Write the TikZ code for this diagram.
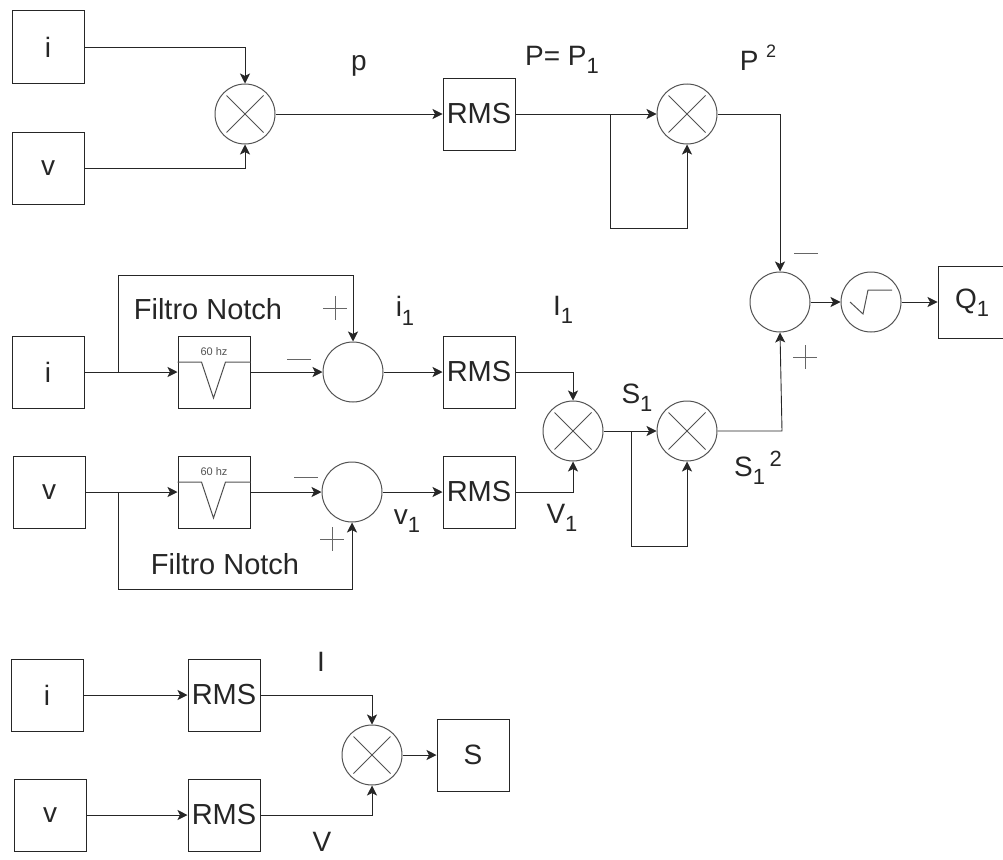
\documentclass[tikz,border=0pt]{standalone}
\usepackage{fontspec}
\setmainfont{Liberation Sans}
\usetikzlibrary{arrows.meta,calc}
\definecolor{ink}{gray}{0.15}
\definecolor{sgn}{gray}{0.4}
\tikzset{
  blockbox/.style={draw=ink,line width=1pt,minimum width=72pt,minimum height=72pt,inner sep=0pt,font=\fontsize{28}{28}\selectfont,text=ink},
  rmsbox/.style={blockbox,font=\fontsize{29}{29}\selectfont},
  filterbox/.style={blockbox},
  roundnode/.style={circle,draw=ink!80,line width=1pt,minimum size=60pt,inner sep=0pt},
  wire/.style={draw=ink,line width=.9pt,-{Stealth[length=10pt,width=10pt,inset=2.5pt]}},
  lab/.style={inner sep=0pt,font=\fontsize{28}{28}\selectfont,text=ink},
  signmark/.style={draw=sgn,line width=1pt}
}
\newcommand{\sbs}[1]{\raisebox{-.3em}{\fontsize{22}{22}\selectfont #1}}
\newcommand{\lowv}{\raisebox{-3pt}{v}}
\newcommand{\mulcross}[1]{\draw[draw=ink!80,line width=.8pt] ($(#1)+(-18.5,-18.5)$) -- ($(#1)+(18.5,18.5)$) ($(#1)+(18.5,-18.5)$) -- ($(#1)+(-18.5,18.5)$);}
\newcommand{\notch}[1]{%
  \draw[draw=ink!80,line width=1pt] ([yshift=10pt]#1.west) -- ++(24,0) -- ++(12,36) -- ++(12,-36) -- ([yshift=10pt]#1.east);
  \node[inner sep=0pt,font=\fontsize{11}{11}\selectfont,text=ink!80] (#1t) at ([yshift=20pt]#1.center) {60 hz};}
\newcommand{\plusmark}[2]{\draw[signmark] (#1-12,#2) -- (#1+12,#2) (#1,#2-12) -- (#1,#2+12);}
\newcommand{\minusmark}[2]{\draw[signmark] (#1-12,#2) -- (#1+12,#2);}
\begin{document}
\begin{tikzpicture}[x=1pt,y=-1pt]
\useasboundingbox (0,0) rectangle (1003,859);
\clip (0,0) rectangle (1003,859);
% top row
\node[blockbox] (i1) at (48,47) {i};
\node[blockbox] (v1) at (48,168) {\lowv};
\node[roundnode] (m1) at (245,114) {};
\node[rmsbox] (r1) at (479,114) {RMS};
\node[roundnode] (m2) at (687,114) {};
\coordinate (t1) at (610,114);
\coordinate (t2) at (610,228);
\coordinate (t3) at (687,228);
\coordinate (c1) at (245,47);
\coordinate (c2) at (245,168);
\coordinate (c3) at (780,114);
\draw[wire] (i1.east) -- (c1) -- (m1.north);
\draw[wire] (v1.east) -- (c2) -- (m1.south);
\draw[wire] (m1.east) -- (r1.west);
\draw[wire] (r1.east) -- (m2.west);
\draw[wire] (t1) -- (t2) -- (t3) -- (m2.south);
% sum
\node[roundnode] (s0) at (780,302) {};
\node[roundnode] (sq) at (871,302) {};
\node[blockbox] (q) at (974,302) {};
\node[lab] (qt) at (972,303) {Q\sbs{1}};
\draw[wire] (m2.east) -- (c3) -- (s0.north);
\draw[wire] (s0.east) -- (sq.west);
\draw[wire] (sq.east) -- (q.west);
\draw[draw=ink!80,line width=1pt] (850,302) -- (863,314) -- (868,290) -- (892,290);
% middle
\node[blockbox] (i2) at (48,372) {i};
\node[filterbox] (f1) at (214,372) {};
\node[roundnode] (s1) at (353,372) {};
\node[rmsbox] (r2) at (479,372) {RMS};
\node[blockbox] (v2) at (49,492) {\lowv};
\node[filterbox] (f2) at (214,492) {};
\node[roundnode] (s2) at (352,492) {};
\node[rmsbox] (r3) at (479,492) {RMS};
\node[roundnode] (m3) at (573,431) {};
\node[roundnode] (m4) at (687,431) {};
\notch{f1}
\notch{f2}
\coordinate (a1) at (118,372);
\coordinate (a2) at (118,275);
\coordinate (a3) at (353,275);
\coordinate (b1) at (118,492);
\coordinate (b2) at (118,589);
\coordinate (b3) at (352,589);
\coordinate (d1) at (573,372);
\coordinate (d2) at (573,492);
\coordinate (e1) at (631,431);
\coordinate (e2) at (631,546);
\coordinate (e3) at (687,546);
\coordinate (g1) at (782,431);
\draw[wire] (i2.east) -- (f1.west);
\draw[wire] (f1.east) -- (s1.west);
\draw[wire] (s1.east) -- (r2.west);
\draw[wire] (a1) -- (a2) -- (a3) -- (s1.north);
\draw[wire] (v2.east) -- (f2.west);
\draw[wire] (f2.east) -- (s2.west);
\draw[wire] (s2.east) -- (r3.west);
\draw[wire] (b1) -- (b2) -- (b3) -- (s2.south);
\draw[wire] (r2.east) -- (d1) -- (m3.north);
\draw[wire] (r3.east) -- (d2) -- (m3.south);
\draw[wire] (m3.east) -- (m4.west);
\draw[wire] (e1) -- (e2) -- (e3) -- (m4.south);
\draw[wire] (m4.east) -- (g1) -- (s0.south);
% bottom
\node[blockbox] (i3) at (47,695) {i};
\node[rmsbox] (r4) at (224,695) {RMS};
\node[blockbox] (v3) at (50,815) {\lowv};
\node[rmsbox] (r5) at (224,815) {RMS};
\node[roundnode] (m5) at (372,755) {};
\node[blockbox] (s) at (473,755) {S};
\coordinate (h1) at (372,695);
\coordinate (h2) at (372,815);
\draw[wire] (i3.east) -- (r4.west);
\draw[wire] (v3.east) -- (r5.west);
\draw[wire] (r4.east) -- (h1) -- (m5.north);
\draw[wire] (r5.east) -- (h2) -- (m5.south);
\draw[wire] (m5.east) -- (s.west);
\mulcross{m1}\mulcross{m2}\mulcross{m3}\mulcross{m4}\mulcross{m5}
% labels
\node[lab] (lp) at (359,66) {p};
\node[lab] (lP) at (562,60) {P= P\sbs{1}};
\node[lab] (lP2) at (758,58) {P \raisebox{.45em}{\fontsize{18}{18}\selectfont 2}};
\node[lab,font=\fontsize{29}{29}\selectfont] (fn1) at (208,309) {Filtro Notch};
\node[lab,font=\fontsize{29}{29}\selectfont] (fn2) at (225,564) {Filtro Notch};
\node[lab] (li1) at (405,311) {i\sbs{1}};
\node[lab] (lI1) at (563,310) {I\sbs{1}};
\node[lab] (lv1) at (407,521) {v\sbs{1}};
\node[lab] (lV1) at (562,518) {V\sbs{1}};
\node[lab] (lS1) at (637,398) {S\sbs{1}};
\node[lab] (lS2) at (758,468) {S\sbs{1}\,\raisebox{.35em}{\fontsize{22}{22}\selectfont 2}};
\node[lab] (lI) at (321,662) {I};
\node[lab] (lV) at (322,842) {V};
\plusmark{335}{308}
\minusmark{299}{359}
\minusmark{306}{477}
\plusmark{332}{539}
\minusmark{806}{253}
\plusmark{805}{357}
\end{tikzpicture}
\end{document}
